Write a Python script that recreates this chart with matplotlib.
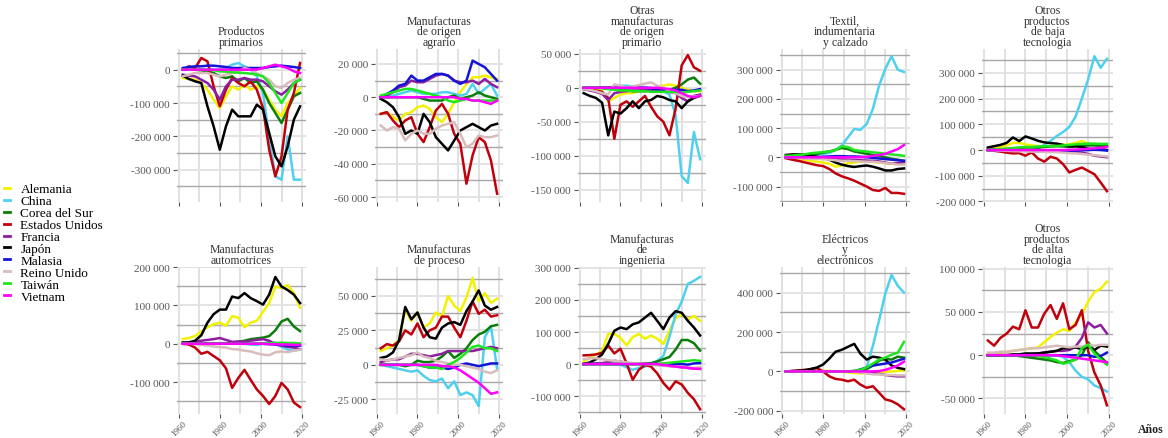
import matplotlib
matplotlib.use("Agg")
import matplotlib.pyplot as plt
from matplotlib.lines import Line2D
from matplotlib.ticker import MultipleLocator, FuncFormatter
import numpy as np

plt.rcParams["font.family"] = "serif"
plt.rcParams["font.serif"] = ["Liberation Serif", "DejaVu Serif"]

years = [1962, 1965, 1968, 1971, 1974, 1977, 1980, 1983, 1986, 1989,
         1992, 1995, 1998, 2001, 2004, 2007, 2010, 2013, 2016, 2019]
countries = ["Alemania", "China", "Corea del Sur", "Estados Unidos", "Francia",
             "Japón", "Malasia", "Reino Unido", "Taiwán", "Vietnam"]
colors = ["#f2f200", "#4fd0ee", "#0b7d0b", "#c0000c", "#8e1ea0",
          "#000000", "#1414d8", "#d8bcbc", "#1ee61e", "#ff00ff"]

# saldos en miles, un valor por cada año de `years`, en el orden de `countries`
primarios = [
    [-25, -28, -30, -40, -60, -90, -115, -80, -50, -60, -45, -60, -50, -60, -90, -120, -140, -100, -80, -55],
    [0, 0, 0, 0, 0, 0, 0, 5, 15, 20, 10, 0, -20, -70, -200, -320, -330, -200, -330, -330],
    [0, 0, 0, -2, -5, -10, -20, -25, -20, -35, -25, -40, -35, -60, -100, -130, -160, -120, -80, -70],
    [0, 10, 5, 35, 25, -50, -110, -60, -25, -40, -50, -35, -60, -115, -240, -320, -260, -120, -70, 20],
    [-15, -18, -20, -30, -40, -60, -90, -50, -30, -30, -25, -30, -30, -35, -50, -65, -75, -60, -40, -30],
    [-18, -28, -35, -40, -110, -170, -240, -170, -120, -140, -140, -140, -105, -120, -190, -260, -290, -230, -150, -110],
    [5, 8, 10, 10, 12, 12, 10, 8, 5, 5, 5, 5, 5, 5, 8, 10, 12, 10, 8, 5],
    [-20, -15, -10, -10, -10, -15, -20, -15, -10, -5, 5, 0, -10, -20, -30, -50, -55, -40, -30, -25],
    [0, 0, 0, 0, 0, -2, -5, -6, -8, -9, -10, -12, -15, -20, -40, -70, -100, -70, -40, -30],
    [0, 0, 0, 0, 0, 0, 0, 0, 0, 0, 0, 0, 0, 5, 10, 15, 10, 5, -5, -10],
]
agrario = [
    [-10, -9, -12, -14, -10, -9, -6, -5, -7, -12, -15, -10, -3, 3, 8, 12, 12, 13, 12, 11],
    [0, 0, 1, 2, 3, 4, 3, 2, 2, 2, 3, 3, 2, 1, 2, 8, 2, 5, 8, 1],
    [0, 0, 0, 0, 0, 0, 0, -1, -2, -2, -2, 0, 1, -1, 0, 1, 3, 1, 0, -1],
    [-10, -9, -14, -18, -14, -12, -22, -27, -18, -8, -4, -10, -22, -28, -52, -35, -24, -27, -38, -58],
    [0, 1, 3, 6, 7, 10, 9, 9, 11, 13, 14, 13, 10, 9, 9, 10, 8, 11, 8, 6],
    [-1, -3, -6, -12, -22, -20, -22, -10, -15, -24, -28, -32, -26, -20, -18, -16, -18, -20, -17, -16],
    [0, 2, 4, 7, 8, 13, 10, 10, 12, 14, 14, 13, 10, 8, 10, 22, 20, 18, 14, 10],
    [-17, -20, -18, -19, -26, -22, -20, -22, -22, -19, -17, -16, -15, -22, -30, -28, -23, -24, -24, -23],
    [1, 2, 3, 4, 5, 5, 4, 3, 2, 1, 0, -2, -3, -2, -1, -2, -2, -2, -2, -2],
    [0, 0, 0, 0, 0, 0, 0, 0, 0, 0, 0, 0, 0, -1, -1, -2, -2, -3, -4, -2],
]
origen_primario = [
    [0, 0, -2, -5, -20, -15, -10, -8, -8, -5, -4, -3, 0, 3, 5, 3, 0, -3, -5, -5],
    [0, 0, 0, 0, 0, 2, 3, 3, 2, 2, 1, 0, -2, -5, -10, -40, -130, -140, -65, -105],
    [0, 0, 0, 0, 0, -2, -3, -4, -5, -5, -5, -4, -5, -5, -3, 0, 5, 12, 15, 6],
    [-2, -3, -4, -6, -15, -75, -25, -20, -28, -20, -12, -28, -42, -50, -70, -31, 33, 48, 30, 25],
    [-2, -4, -6, -9, -18, -8, -6, -5, -4, -4, -3, -3, -4, -5, -6, -8, -15, -20, -12, -10],
    [-8, -12, -15, -22, -70, -35, -38, -30, -20, -30, -20, -18, -12, -14, -18, -20, -30, -20, -15, -12],
    [0, 0, 0, 0, 0, 0, 0, 0, 0, 0, 0, -1, -2, -3, -3, -3, -3, -5, -4, -2],
    [-2, -3, -5, -8, -10, 5, 3, 0, 2, 4, 6, 8, 3, 0, -5, -8, -12, -14, -13, -12],
    [0, 0, 0, -1, -2, -3, -4, -4, -5, -5, -5, -6, -6, -6, -6, -6, -7, -6, -5, -4],
    [0, 0, 0, 0, 0, 0, 0, 0, 0, 0, 0, 0, 0, -1, -2, -4, -8, -12, -14, -12],
]
textil = [
    [0, -2, -5, -8, -12, -15, -18, -22, -32, -28, -20, -18, -15, -15, -16, -18, -20, -22, -22, -23],
    [0, 2, 4, 6, 8, 10, 12, 15, 25, 40, 69, 97, 94, 114, 166, 246, 303, 346, 300, 292],
    [0, 2, 4, 6, 8, 12, 16, 20, 26, 32, 28, 20, 16, 12, 8, 5, 0, -5, -8, -12],
    [-3, -8, -12, -17, -22, -27, -30, -40, -55, -65, -72, -80, -90, -100, -112, -115, -105, -122, -122, -125],
    [0, 0, -1, -2, -3, -3, -4, -5, -6, -7, -8, -9, -10, -11, -12, -14, -18, -22, -20, -17],
    [8, 10, 10, 9, 5, 2, -2, -8, -18, -25, -30, -33, -30, -28, -32, -38, -45, -45, -40, -38],
    [0, 0, 0, 0, 0, 1, 2, 3, 4, 4, 3, 3, 2, 0, -2, -4, -6, -8, -10, -12],
    [0, 0, -2, -4, -5, -6, -6, -8, -10, -12, -12, -13, -14, -15, -15, -17, -20, -22, -25, -25],
    [5, 6, 8, 10, 14, 16, 18, 20, 25, 38, 35, 25, 22, 20, 17, 15, 12, 10, 8, 5],
    [0, 0, 0, 0, 0, 0, 0, 0, 0, 0, 0, 0, 0, 2, 5, 8, 12, 20, 28, 42],
]
baja_tec = [
    [5, 8, 12, 18, 28, 28, 22, 18, 15, 15, 15, 18, 20, 22, 28, 35, 25, 22, 20, 18],
    [0, 0, 0, 0, 0, 0, -2, 0, 5, 20, 35, 55, 70, 90, 130, 200, 275, 365, 320, 355],
    [0, 1, 2, 4, 6, 8, 10, 10, 10, 12, 14, 15, 14, 12, 14, 16, 18, 18, 16, 15],
    [0, -3, -6, -10, -13, -12, -22, -9, -33, -45, -26, -33, -55, -87, -77, -68, -81, -94, -126, -160],
    [0, 0, 0, 0, -1, -2, -3, -4, -5, -5, -5, -6, -6, -7, -8, -10, -15, -22, -25, -28],
    [10, 15, 20, 28, 49, 35, 53, 45, 36, 30, 27, 25, 20, 15, 15, 12, 5, 2, 3, 0],
    [0, 0, 0, 0, 0, 0, -1, -2, -3, -4, -4, -4, -3, -2, -2, -1, 0, 1, 0, -2],
    [0, -1, -2, -3, -4, -5, -5, -6, -6, -7, -8, -8, -10, -12, -13, -15, -18, -20, -22, -25],
    [0, 2, 4, 6, 8, 10, 12, 12, 14, 15, 15, 16, 18, 20, 22, 24, 25, 25, 24, 24],
    [0, 0, 0, 0, 0, 0, 0, 0, 0, 0, 0, 0, 0, 1, 2, 3, 5, 7, 9, 12],
]
automotrices = [
    [12, 15, 20, 32, 43, 51, 55, 47, 72, 68, 43, 55, 60, 83, 106, 149, 145, 153, 132, 94],
    [0, 0, 0, 0, 0, 0, 0, 0, 0, 0, 0, -2, -3, 0, 5, 3, -8, -15, -18, -15],
    [0, 0, 0, 0, 0, 0, 0, 0, 2, 5, 8, 12, 14, 16, 20, 35, 58, 65, 45, 33],
    [0, -2, -10, -26, -21, -32, -43, -64, -115, -89, -68, -94, -119, -136, -157, -136, -102, -119, -153, -165],
    [3, 4, 6, 8, 10, 12, 15, 10, 5, 6, 5, 8, 10, 12, 8, -2, -5, -8, -10, -14],
    [3, 3, 8, 22, 55, 77, 89, 89, 123, 119, 132, 119, 111, 102, 128, 174, 149, 140, 128, 106],
    [0, 0, 0, 0, 0, 0, 0, 0, 0, 0, 0, 0, 0, 0, -1, -2, -3, -4, -5, -5],
    [0, 0, -1, -3, -5, -7, -9, -10, -14, -15, -18, -20, -25, -28, -30, -22, -20, -22, -18, -15],
    [0, 0, 0, 0, 0, 0, 0, 0, 0, 0, 0, 0, 0, 0, 1, 2, 3, 2, 2, 1],
    [0, 0, 0, 0, 0, 0, 0, 0, 0, 0, 0, 0, 0, 0, -1, -1, -2, -2, -3, -3],
]
proceso = [
    [10, 12, 14, 18, 40, 32, 38, 27, 30, 38, 35, 50, 43, 39, 49, 63, 46, 52, 45, 48],
    [0, -1, -2, -3, -4, -5, -4, -8, -11, -12, -10, -17, -12, -22, -20, -22, -30, 20, 28, -3],
    [0, 0, 0, 0, -1, 0, 3, 2, 2, 3, 6, 10, 5, 8, 12, 18, 22, 24, 28, 29],
    [12, 15, 14, 17, 25, 22, 30, 20, 25, 27, 35, 35, 27, 20, 32, 46, 37, 40, 35, 36],
    [2, 3, 4, 4, 6, 8, 8, 7, 6, 7, 8, 10, 10, 10, 10, 10, 11, 12, 13, 12],
    [5, 6, 9, 18, 42, 33, 38, 27, 20, 19, 27, 30, 31, 29, 39, 46, 54, 43, 40, 42],
    [0, 0, 0, 0, 0, 0, 0, -1, -2, -2, -2, -3, -2, 0, 1, 0, -1, 0, 1, 1],
    [4, 3, 4, 5, 6, 7, 9, 6, 5, 3, 2, 1, 0, 0, -1, -2, -3, -5, -6, -4],
    [0, 0, 0, 0, 0, 0, 0, -1, -2, -2, -3, 0, 2, 5, 9, 13, 14, 12, 12, 10],
    [0, 0, 0, 0, 0, 0, 0, 0, 0, 0, -1, -1, -2, -4, -7, -10, -13, -17, -21, -20],
]
ingenieria = [
    [7, 20, 30, 40, 94, 94, 82, 58, 84, 94, 79, 89, 79, 63, 104, 143, 155, 140, 150, 135],
    [0, 0, 0, 0, 0, 0, -2, -10, -18, -12, -8, 0, 10, 25, 85, 155, 195, 250, 260, 272],
    [0, 0, 0, 0, 0, 0, 0, 0, 0, 0, 0, 3, 8, 15, 22, 45, 75, 75, 65, 42],
    [27, 28, 30, 35, 58, 33, 48, 2, -49, -18, -3, -8, -29, -59, -80, -54, -64, -90, -110, -141],
    [0, 1, 2, 3, 6, 10, 8, 3, 2, 2, 1, 0, -2, -4, -6, -8, -10, -12, -14, -15],
    [0, 5, 15, 30, 63, 104, 114, 109, 124, 130, 145, 160, 135, 109, 145, 165, 160, 135, 114, 89],
    [0, 0, 0, 0, 0, 0, 0, 0, 0, 0, 0, 0, 0, 0, 0, 0, 0, -2, 2, 3],
    [15, 18, 18, 15, 12, 10, 8, 5, 3, 2, 0, -2, -4, -5, -7, -8, -10, -12, -12, -10],
    [0, 0, 0, 0, 0, 0, 0, 0, 0, 0, 0, 0, 0, 2, 4, 6, 8, 10, 12, 10],
    [0, 0, 0, 0, 0, 0, 0, 0, 0, 0, 0, 0, 0, -3, -5, -8, -10, -12, -14, -15],
]
electricos = [
    [0, 1, 2, 2, 3, 3, 3, 2, 0, -2, -5, -8, -10, -8, -5, -5, -3, 0, 2, 5],
    [0, 0, 0, 0, 0, 0, 0, 0, 0, 0, 0, 0, 0, 20, 130, 260, 395, 490, 435, 400],
    [0, 0, 0, 0, 0, 0, 0, 0, 0, 0, 0, 0, 2, 12, 30, 55, 65, 60, 75, 70],
    [0, 2, 5, 8, 12, 17, 0, -25, -38, -42, -50, -42, -67, -83, -75, -108, -142, -150, -167, -192],
    [0, 0, 0, 0, 0, 0, 0, 0, 0, 0, 0, 0, -3, -5, -8, -12, -18, -22, -25, -25],
    [0, 2, 3, 5, 12, 20, 35, 65, 100, 110, 125, 140, 90, 60, 75, 70, 60, 30, 18, 12],
    [0, 0, 0, 0, 0, 0, 0, 0, 0, 0, 0, 2, 10, 20, 30, 35, 40, 45, 55, 65],
    [0, 0, 0, 0, 0, 0, 0, 0, 0, 0, 0, -2, -5, -10, -15, -15, -18, -18, -20, -20],
    [0, 0, 0, 0, 0, 0, 0, 0, 0, 0, 0, 3, 8, 20, 40, 60, 70, 85, 95, 150],
    [0, 0, 0, 0, 0, 0, 0, 0, 0, 0, 0, 0, 0, 0, 0, 2, 8, 18, 30, 50],
]
alta_tec = [
    [1, 2, 3, 4, 5, 6, 7, 8, 9, 15, 21, 26, 30, 28, 38, 47, 62, 73, 77, 85],
    [0, 0, 0, 0, 0, 0, 0, 0, 0, 0, 0, 0, -2, -8, -18, -25, -28, -35, -38, -42],
    [0, 0, 0, 0, 0, -1, -2, -3, -4, -5, -6, -8, -9, -7, -5, 0, 15, 5, -2, -9],
    [17, 11, 20, 25, 33, 30, 52, 32, 32, 48, 58, 42, 60, 30, 35, 52, 5, -20, -35, -58],
    [0, 0, 0, 0, 0, 0, 1, 1, 2, 3, 4, 5, 5, 6, 10, 20, 38, 32, 35, 25],
    [0, 0, 0, 0, 1, 1, 2, 2, 2, 3, 4, 5, 8, 8, 9, 7, 10, 6, 11, 10],
    [0, 0, 0, 0, 0, 0, 0, 0, 0, 0, 0, 0, 0, 0, 0, 0, 0, -2, -1, 3],
    [3, 3, 4, 4, 5, 6, 7, 8, 8, 9, 10, 11, 10, 9, 10, 10, 12, 11, 12, 12],
    [0, 0, 0, 0, 0, 0, 0, 0, -1, -2, -4, -6, -10, -8, -5, 8, 12, 2, -5, -11],
    [0, 0, 0, 0, 0, 0, 0, 0, 0, 0, 0, 0, -1, -2, -3, -4, -5, -6, -7, -8],
]

titles = ["Productos\nprimarios", "Manufacturas\nde origen\nagrario",
          "Otras\nmanufacturas\nde origen\nprimario", "Textil,\nindumentaria\ny calzado",
          "Otros\nproductos\nde baja\ntecnologia",
          "Manufacturas\nautomotrices", "Manufacturas\nde proceso",
          "Manufacturas\nde\ningenieria", "Eléctricos\ny\nelectrónicos",
          "Otros\nproductos\nde alta\ntecnologia"]
panels = [primarios, agrario, origen_primario, textil, baja_tec,
          automotrices, proceso, ingenieria, electricos, alta_tec]
# paso de etiquetas del eje y (miles) y límites
y_steps = [100, 20, 50, 100, 100, 100, 25, 100, 200, 50]
y_lims = [(-397, 62), (-63, 29), (-168, 57), (-153, 371), (-202, 393),
          (-183, 200), (-35.7, 71), (-156, 303), (-216, 530), (-68, 102)]

W, H = 1168, 439
col_px = [(177, 306), (375, 503), (578, 706), (780, 910), (982, 1113)]
row_px = [(50, 203), (268, 415)]

fig = plt.figure(figsize=(W / 100, H / 100), dpi=100)

fmt = FuncFormatter(lambda v, p: f"{v:,.0f}".replace(",", " ").replace("\u2212", "-"))

for i, (title, data) in enumerate(zip(titles, panels)):
    r, c = divmod(i, 5)
    x0, x1 = col_px[c]
    y0, y1 = row_px[r]
    ax = fig.add_axes([x0 / W, 1 - y1 / H, (x1 - x0) / W, (y1 - y0) / H])
    for vals, col in zip(data, colors):
        ax.plot(years, np.array(vals) * 1000, color=col, lw=1.8, solid_joinstyle="round")
    ax.set_xlim(1959.2, 2021.9)
    lo, hi = y_lims[i]
    ax.set_ylim(lo * 1000, hi * 1000)
    step = y_steps[i] * 1000
    ax.yaxis.set_major_locator(MultipleLocator(step))
    ax.yaxis.set_minor_locator(MultipleLocator(step / 2))
    ax.yaxis.set_major_formatter(fmt)
    ax.xaxis.set_major_locator(MultipleLocator(20))
    ax.xaxis.set_minor_locator(MultipleLocator(10))
    ax.grid(True, which="major", axis="y", color="#e3e3e3", lw=1.4)
    ax.grid(True, which="minor", axis="y", color="#a8a8a8", lw=1.0)
    ax.grid(True, which="both", axis="x", color="#dcdcdc", lw=1.2)
    ax.set_axisbelow(True)
    for s in ax.spines.values():
        s.set_visible(False)
    ax.tick_params(axis="y", which="major", labelsize=8, labelcolor="#555555",
                   color="#555555", length=3, width=0.8, pad=2)
    ax.tick_params(axis="y", which="minor", length=0)
    ax.tick_params(axis="x", which="major", color="#555555", length=3, width=0.8,
                   labelsize=6.5, labelcolor="#555555", pad=0.5)
    ax.tick_params(axis="x", which="minor", length=0)
    if r == 0:
        ax.tick_params(axis="x", labelbottom=False)
    else:
        for lab in ax.get_xticklabels():
            lab.set_rotation(45)
            lab.set_ha("center")
            lab.set_va("top")
    ax.set_title(title, fontsize=8.5, color="#333333", pad=3, linespacing=0.85)

handles = [Line2D([0], [0], color=col, lw=2) for col in colors]
fig.legend(handles, countries, loc="upper left", bbox_to_anchor=(4 / W, 1 - 184 / H),
           frameon=False, fontsize=9.5, handlelength=0.45, handletextpad=0.8,
           labelspacing=-0.02, borderpad=0, borderaxespad=0)

fig.text(1138 / W, 1 - 430 / H, "Años", fontsize=8.5, fontweight="bold", color="#222222",
         va="center", ha="left")

fig.savefig("out.png", dpi=100)
